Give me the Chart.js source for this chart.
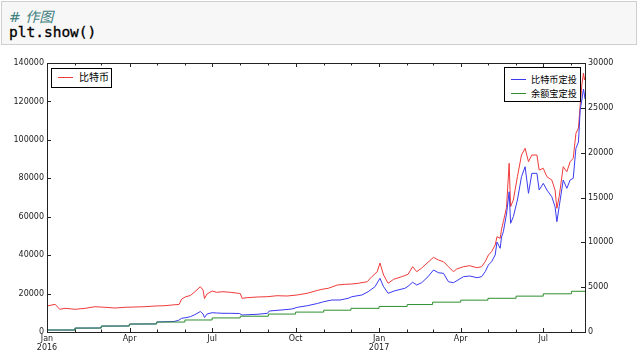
<!DOCTYPE html>
<html>
<head>
<meta charset="utf-8">
<script src="https://cdn.jsdelivr.net/npm/chart.js@4/dist/chart.umd.min.js"></script>
<style>
  html, body { margin: 0; padding: 0; background: #fff; width: 640px; height: 357px; overflow: hidden; }
  #cell { position: absolute; left: 1px; top: 1px; width: 636px; height: 44px; background: #f7f7f7; border: 1px solid #cfcfcf; box-sizing: border-box; }
  #c1 { position: absolute; left: 7px; top: 4px; font: italic 14px "DejaVu Sans", "Noto Sans CJK SC", sans-serif; color: #408080; white-space: pre; }
  #c2 { position: absolute; left: 7px; top: 22px; font: 14.5px "DejaVu Sans Mono", monospace; color: #000; white-space: pre; -webkit-text-stroke: 0.3px #000; }
  #chart { position: absolute; left: 0; top: 0; }
  .legend { position: absolute; border: 1px solid #000; background: #fff; box-sizing: border-box; font-family: "Noto Sans CJK SC", sans-serif; color: #000; }
  .row { position: absolute; left: 0; height: 12px; line-height: 12px; white-space: nowrap; }
  .sw { position: absolute; top: 6px; width: 15px; height: 1px; }
  .tx { position: absolute; top: 0; }
</style>
</head>
<body>
<canvas id="chart" width="640" height="357"></canvas>
<div id="cell"><div id="c1"># 作图</div><div id="c2">plt.show()</div></div>
<div class="legend" id="legL" style="left:51px;top:68px;width:61px;height:20px;font-size:10px;"></div>
<div class="legend" id="legR" style="left:504px;top:67px;width:77px;height:35px;font-size:9.2px;"></div>
<script>
// ---- data (days since 2016-01-01) ----
const seriesNames = ['比特币', '比特币定投', '余额宝定投'];
const seriesColors = ['#f03a3a', '#3a3af0', '#2f8f2f'];

const redDays = [0, 9, 14, 20, 31, 42, 53, 64, 75, 86,
  97, 108, 119, 130, 141, 145.5, 148.5, 153, 158, 163,
  169, 172, 173.6, 176.4, 182, 187, 194, 202, 211, 213,
  215, 220.5, 231.5, 242.6, 253.6, 264.6, 275.6, 286.7, 297.7, 303,
  310, 320, 328.6, 336, 343, 353, 358, 364, 367, 371,
  376, 382, 391, 398, 403, 407.6, 413, 420, 426, 431.4,
  437, 442.5, 448, 451.7, 459, 466, 473.8, 479, 483, 486.5,
  490, 494, 496, 499.5, 501, 503, 506.5, 509.4, 511, 514,
  518.5, 523, 527, 530.7, 534.4, 540, 542.5, 547, 551, 556.4,
  560, 562, 564.5, 569, 573, 576.6, 580, 583, 585.8, 587.7,
  589.5, 591.3, 592.4, 593];
const redValues = [13530, 14400, 11800, 12330, 11800, 12330, 13160, 12850, 12490, 12850,
  13010, 13160, 13530, 13680, 14200, 14300, 17170, 18370, 18990, 20970,
  23570, 21850, 17430, 19770, 21330, 20660, 20970, 20660, 20140, 20030,
  17540, 17850, 18210, 18370, 18890, 18730, 19250, 20140, 21600, 22220,
  22740, 24460, 24820, 24980, 25340, 26180, 28780, 31380, 35910, 29660,
  25340, 27420, 28780, 30030, 34000, 31380, 33300, 36300, 38870, 37470,
  36580, 33980, 31380, 32790, 33980, 34500, 33460, 33980, 36580, 40070,
  41790, 45270, 49590, 48760, 53500, 57400, 64790, 87790, 65200, 68690,
  80820, 92110, 95600, 88620, 92110, 92110, 84300, 85190, 80820, 79100,
  73900, 64370, 70410, 86020, 83420, 88620, 90390, 103400, 106160, 118130,
  128540, 134780, 131140, 132700];

const blueDays = [0, 30, 31, 59, 60, 90, 91, 120, 121, 140,
  145, 148.5, 153, 158, 163, 169, 172, 173.6, 176.4, 182,
  187, 194, 202, 212, 215, 231.5, 243, 245, 258, 270,
  276, 287, 298, 305, 314, 323, 332, 336, 347, 354,
  361.5, 367, 371, 376, 383.5, 394.5, 398, 403, 407.6, 413,
  420, 426, 431.4, 437, 442.5, 448, 453, 459, 466, 474,
  479, 483, 486.5, 490, 494, 496, 499.5, 501, 503, 506.5,
  509.4, 511, 514, 518.5, 523, 527, 530.7, 534.4, 540, 542.5,
  547, 551, 556.4, 560, 562, 564.5, 569, 573, 576.6, 580,
  583, 585.8, 587.7, 589.5, 591.3, 592.4, 593];
const blueValues = [220, 215, 435, 445, 660, 670, 885, 905, 1120, 1170,
  1300, 1530, 1594, 1706, 1930, 2286, 2007, 1617, 2007, 2152,
  2119, 2085, 2085, 2063, 1895, 1973, 2085, 2342, 2453, 2565,
  2754, 2932, 3178, 3378, 3568, 3568, 3758, 3936, 4126, 4494,
  5051, 5988, 5051, 4315, 4605, 4873, 5100, 5550, 5241, 5500,
  6166, 6913, 6612, 6545, 5609, 5497, 5798, 6166, 6244, 6055,
  6166, 6724, 7470, 7838, 8586, 10035, 9333, 10593, 11184, 13157,
  15644, 12120, 12856, 14718, 17316, 18431, 15466, 17695, 17695, 15833,
  16580, 15833, 15086, 13971, 12299, 13971, 16948, 16023, 16948, 17138,
  20483, 21185, 24750, 25868, 27095, 26425, 25980];

const greenDays = [0, 31, 60, 91, 121, 152, 182, 213, 244, 274, 305, 335, 366, 397, 425, 456, 486, 517, 547, 578, 593];
const greenValues = [220, 440, 665, 890, 1110, 1340, 1570, 1760, 2000, 2220, 2430, 2640, 2850, 3060, 3330, 3550, 3760, 4000, 4260, 4540, 4560];

const xTickDays = [0, 91, 182, 274, 366, 456, 547];
const xTickLabels = [['Jan', '2016'], 'Apr', 'Jul', 'Oct', ['Jan', '2017'], 'Apr', 'Jul'];
const monthDays = [0, 31, 60, 91, 121, 152, 182, 213, 244, 274, 305, 335, 366, 397, 425, 456, 486, 517, 547, 578];
const leftTicks = [0, 20000, 40000, 60000, 80000, 100000, 120000, 140000];
const rightTicks = [0, 5000, 10000, 15000, 20000, 25000, 30000];

// ---- legends (HTML text) ----
function addRow(box, top, color, name, textLeft) {
  const r = document.createElement('div');
  r.className = 'row'; r.style.top = top + 'px'; r.style.width = '100%';
  const s = document.createElement('div'); s.className = 'sw';
  s.style.left = '6px'; s.style.background = color;
  const t = document.createElement('span'); t.className = 'tx'; t.style.left = textLeft + 'px'; t.textContent = name;
  r.appendChild(s); r.appendChild(t); box.appendChild(r);
}
addRow(document.getElementById('legL'), 2, seriesColors[0], seriesNames[0], 27);
addRow(document.getElementById('legR'), 5, seriesColors[1], seriesNames[1], 26);
addRow(document.getElementById('legR'), 19, seriesColors[2], seriesNames[2], 26);

const pts = (ds, vs) => ds.map((d, i) => ({ x: d, y: vs[i] }));

const INK = '#222';
const tickFont = { family: '"DejaVu Sans", sans-serif', size: 8, lineHeight: 1.1 };

const framePlugin = {
  id: 'frame',
  afterDatasetsDraw(chart) {
    const { ctx, chartArea: a, scales } = chart;
    ctx.save();
    ctx.strokeStyle = INK;
    ctx.lineWidth = 1;
    ctx.beginPath();
    monthDays.forEach(d => {
      const px = Math.round(scales.x.getPixelForValue(d)) + 0.5;
      const len = xTickDays.includes(d) ? 4 : 2.5;
      ctx.moveTo(px, a.bottom); ctx.lineTo(px, a.bottom - len);
      ctx.moveTo(px, a.top); ctx.lineTo(px, a.top + len);
    });
    leftTicks.forEach(v => {
      const py = Math.round(scales.y.getPixelForValue(v)) + 0.5;
      ctx.moveTo(a.left, py); ctx.lineTo(a.left + 4, py);
    });
    rightTicks.forEach(v => {
      const py = Math.round(scales.y1.getPixelForValue(v)) + 0.5;
      ctx.moveTo(a.right, py); ctx.lineTo(a.right - 4, py);
    });
    ctx.stroke();
    ctx.strokeRect(Math.round(a.left) + 0.5, Math.round(a.top) + 0.5,
      Math.round(a.right - a.left), Math.round(a.bottom - a.top));
    ctx.restore();
  }
};

new Chart(document.getElementById('chart'), {
  type: 'line',
  data: {
    datasets: [
      { label: seriesNames[2], data: pts(greenDays, greenValues), yAxisID: 'y1', borderColor: seriesColors[2], borderWidth: 1, pointRadius: 0, stepped: 'before', order: 0 },
      { label: seriesNames[1], data: pts(blueDays, blueValues), yAxisID: 'y1', borderColor: seriesColors[1], borderWidth: 1, pointRadius: 0, order: 1 },
      { label: seriesNames[0], data: pts(redDays, redValues), yAxisID: 'y', borderColor: seriesColors[0], borderWidth: 1, pointRadius: 0, order: 2 }
    ]
  },
  options: {
    responsive: false,
    animation: false,
    devicePixelRatio: 1,
    layout: { padding: { top: 63, left: 0, right: 0, bottom: 0 } },
    plugins: { legend: { display: false }, tooltip: { enabled: false } },
    elements: { line: { tension: 0 } },
    scales: {
      x: {
        type: 'linear', min: 0, max: 593,
        grid: { display: false, drawTicks: false }, border: { display: false },
        afterBuildTicks: s => { s.ticks = xTickDays.map(v => ({ value: v })); },
        afterFit: s => { s.height = 25; },
        ticks: {
          autoSkip: false, maxRotation: 0, padding: 3, color: INK, font: tickFont,
          callback: v => { const i = xTickDays.indexOf(v); return i >= 0 ? xTickLabels[i] : ''; }
        }
      },
      y: {
        type: 'linear', position: 'left', min: 0, max: 140000,
        grid: { display: false, drawTicks: false }, border: { display: false },
        afterBuildTicks: s => { s.ticks = leftTicks.map(v => ({ value: v })); },
        afterFit: s => { s.width = 47; },
        ticks: { padding: 3, color: INK, font: tickFont, callback: v => String(v) }
      },
      y1: {
        type: 'linear', position: 'right', min: 0, max: 30000,
        grid: { display: false, drawTicks: false }, border: { display: false },
        afterBuildTicks: s => { s.ticks = rightTicks.map(v => ({ value: v })); },
        afterFit: s => { s.width = 55; },
        ticks: { padding: 3, color: INK, font: tickFont, callback: v => String(v) }
      }
    }
  },
  plugins: [framePlugin]
});
</script>
</body>
</html>
